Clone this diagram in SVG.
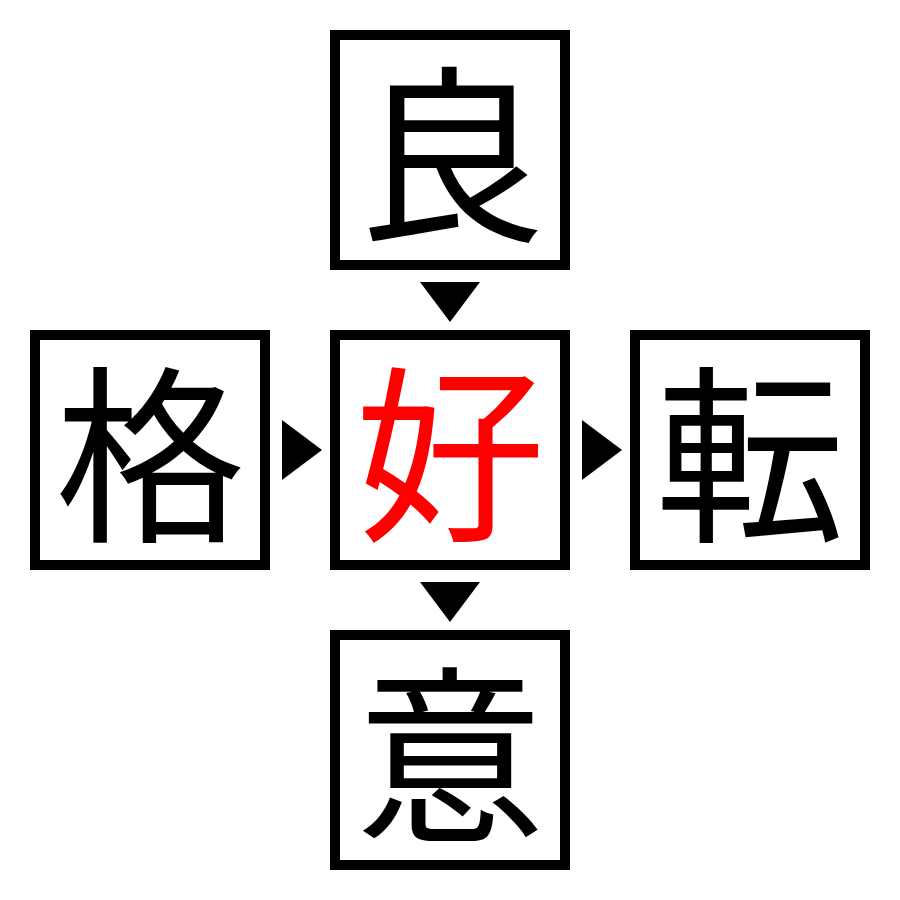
<svg xmlns="http://www.w3.org/2000/svg" width="900" height="900" viewBox="0 0 900 900">
<style>
.box{fill:#fff;stroke:#000;stroke-width:10}
.ch{font-family:"Noto Sans CJK JP","Noto Sans CJK SC",sans-serif;font-size:190px;text-anchor:middle;dominant-baseline:central;fill:#000}
.red{fill:#ff0000}
.tri{fill:#000}
</style>
<rect width="900" height="900" fill="#fff"/>
<g id="node-top"><rect class="box" x="335" y="35" width="230" height="230"/><text class="ch" x="450" y="144">良</text></g>
<g id="node-left"><rect class="box" x="35" y="335" width="230" height="230"/><text class="ch" x="150" y="444">格</text></g>
<g id="node-center"><rect class="box" x="335" y="335" width="230" height="230"/><text class="ch red" x="450" y="444">好</text></g>
<g id="node-right"><rect class="box" x="635" y="335" width="230" height="230"/><text class="ch" x="750" y="444">転</text></g>
<g id="node-bottom"><rect class="box" x="335" y="635" width="230" height="230"/><text class="ch" x="450" y="744">意</text></g>
<g id="connectors">
<polygon class="tri" points="420,282 480,282 450,322"/>
<polygon class="tri" points="420,582 480,582 450,622"/>
<polygon class="tri" points="282,420 282,480 322,450"/>
<polygon class="tri" points="582,420 582,480 622,450"/>
</g>
</svg>
